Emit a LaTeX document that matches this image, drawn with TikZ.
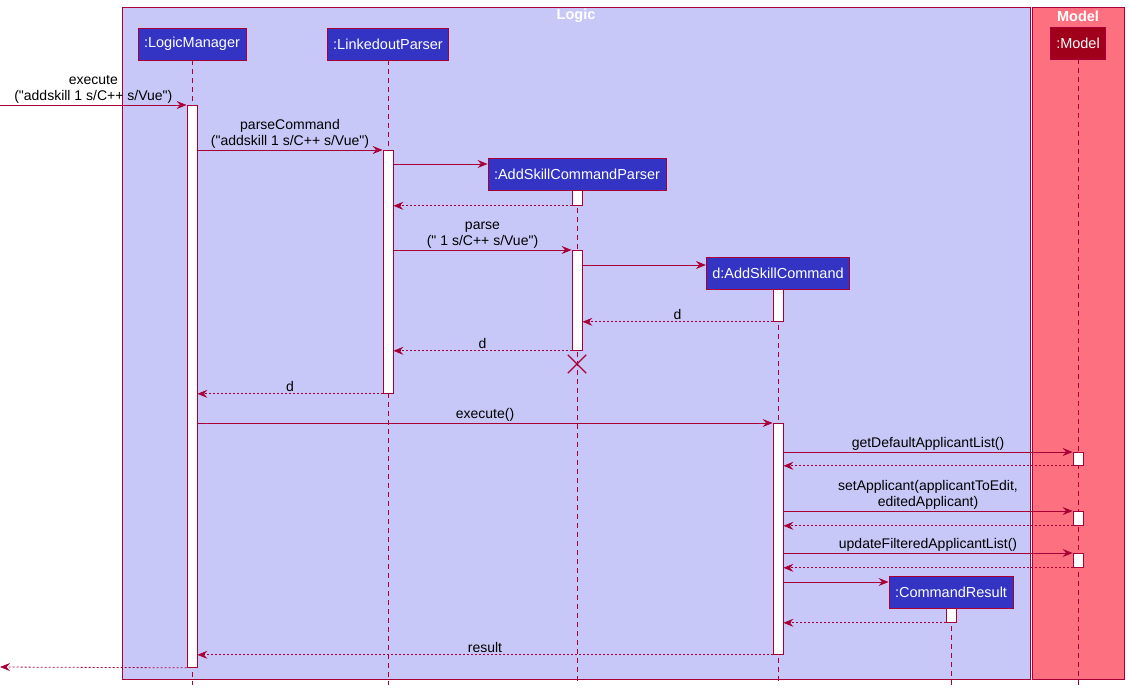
\documentclass[tikz,border=0pt]{standalone}
\usepackage{fontspec}
\setmainfont{Liberation Sans}[Ligatures=TeXOff]
\usetikzlibrary{arrows.meta,positioning,shapes.misc}
\definecolor{umlred}{HTML}{A80036}
\definecolor{logicfill}{HTML}{C8C8F8}
\definecolor{modelfill}{HTML}{FC7080}
\definecolor{partblue}{HTML}{3333C4}
\definecolor{partdark}{HTML}{A0001A}

\begin{document}
\begin{tikzpicture}[x=1pt,y=-1pt,
    >={Stealth[length=10pt,width=8pt,inset=3.5pt]},
    group/.style={draw=umlred, line width=0.9pt},
    grouptitle/.style={text=white, font=\fontsize{14.5}{16}\selectfont\bfseries},
    part/.style={draw=umlred, fill=partblue, text=white, minimum height=32pt, inner xsep=6pt, line width=0.9pt, font=\fontsize{14.5}{17}\selectfont},
    life/.style={draw=umlred, dash pattern=on 5pt off 4pt, line width=0.7pt},
    act/.style={draw=umlred, fill=white, minimum width=10pt, inner sep=0pt, line width=0.8pt, anchor=north},
    msg/.style={->, draw=umlred, line width=0.8pt},
    ret/.style={->, draw=umlred, dash pattern=on 2pt off 2pt, line width=0.8pt},
    lbl/.style={text=black, font=\fontsize{14}{15.5}\selectfont, align=center, above, inner sep=1.5pt}
]
    \useasboundingbox (0,0) rectangle (1129,691);

    % Group boxes behind everything
    \draw[group, fill=logicfill] (122,7) rectangle (1030,679);
    \draw[group, fill=modelfill] (1032,7) rectangle (1124,679);
    \node[grouptitle] (logicT) at (576,16) {Logic};
    \node[grouptitle] (modelT) at (1078,16) {Model};

    % Participants
    \node[part] (lm) at (192,44) {:LogicManager};
    \node[part] (lp) at (388,44) {:LinkedoutParser};
    \node[part] (ascp) at (577,174) {:AddSkillCommandParser};
    \node[part] (asc) at (778,273) {d:AddSkillCommand};
    \node[part] (cr) at (951,592) {:CommandResult};
    \node[part, fill=partdark] (mdl) at (1078,43) {:Model};

    % Lifelines
    \coordinate (bottom) at (0,685);
    \foreach \p in {lm,lp,ascp,asc,cr,mdl}
        \draw[life] (\p.south) -- (\p |- bottom);

    % Activation bars
    \node[act, minimum height=562pt] (lmA) at (192,105) {};
    \node[act, minimum height=243pt] (lpA) at (388,150) {};
    \node[act, minimum height=15pt] (ascpA1) at (577,190) {};
    \node[act, minimum height=100pt] (ascpA2) at (577,250) {};
    \node[act, minimum height=32pt] (ascA1) at (778,289) {};
    \node[act, minimum height=231pt] (ascA2) at (778,423) {};
    \node[act, minimum height=13pt] (mdlA1) at (1078,452) {};
    \node[act, minimum height=14pt] (mdlA2) at (1078,511) {};
    \node[act, minimum height=14pt] (mdlA3) at (1078,553) {};
    \node[act, minimum height=14pt] (crA) at (951,608) {};

    % Rows for create messages and outer ends
    \coordinate (in) at (0,105);
    \coordinate (out) at (0,667);
    \coordinate (newParser) at (0,164);
    \coordinate (newCmd) at (0,265);
    \coordinate (newResult) at (0,582);

    % Messages
    \draw[msg] (in) -- (lmA.north west) node[lbl, midway] {execute\\("addskill 1 s/C++ s/Vue")};
    \draw[msg] (lmA.east |- lpA.north) -- (lpA.north west) node[lbl, midway] {parseCommand\\("addskill 1 s/C++ s/Vue")};
    \draw[msg] (lpA.east |- newParser) -- (ascp.west |- newParser);
    \draw[ret] (ascpA1.south west) -- (lpA.east |- ascpA1.south);
    \draw[msg] (lpA.east |- ascpA2.north) -- (ascpA2.north west) node[lbl, midway] {parse\\(" 1 s/C++ s/Vue")};
    \draw[msg] (ascpA2.east |- newCmd) -- (asc.west |- newCmd);
    \draw[ret] (ascA1.south west) -- (ascpA2.east |- ascA1.south) node[lbl, midway] {d};
    \draw[ret] (ascpA2.south west) -- (lpA.east |- ascpA2.south) node[lbl, midway] {d};
    \node[draw=umlred, cross out, minimum size=17pt, inner sep=0pt, line width=1.3pt] (kill) at (577,364) {};
    \draw[ret] (lpA.south west) -- (lmA.east |- lpA.south) node[lbl, midway] {d};
    \draw[msg] (lmA.east |- ascA2.north) -- (ascA2.north west) node[lbl, midway] {execute()};
    \draw[msg] (ascA2.east |- mdlA1.north) -- (mdlA1.north west) node[lbl, midway] {getDefaultApplicantList()};
    \draw[ret] (mdlA1.south west) -- (ascA2.east |- mdlA1.south);
    \draw[msg] (ascA2.east |- mdlA2.north) -- (mdlA2.north west) node[lbl, midway] {setApplicant(applicantToEdit,\\editedApplicant)};
    \draw[ret] (mdlA2.south west) -- (ascA2.east |- mdlA2.south);
    \draw[msg] (ascA2.east |- mdlA3.north) -- (mdlA3.north west) node[lbl, midway] {updateFilteredApplicantList()};
    \draw[ret] (mdlA3.south west) -- (ascA2.east |- mdlA3.south);
    \draw[msg] (ascA2.east |- newResult) -- (cr.west |- newResult);
    \draw[ret] (crA.south west) -- (ascA2.east |- crA.south);
    \draw[ret] (ascA2.south west) -- (lmA.east |- ascA2.south) node[lbl, midway] {result};
    \draw[ret] (lmA.south west) -- (out);
\end{tikzpicture}
\end{document}
